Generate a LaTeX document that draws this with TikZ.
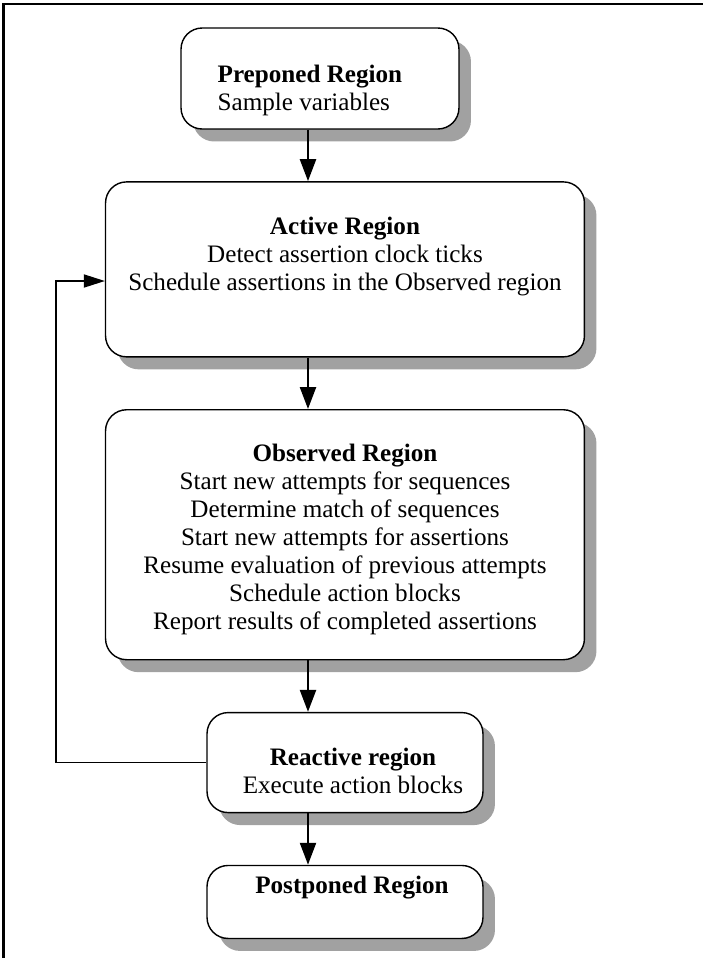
\documentclass[tikz,border=0pt]{standalone}
\usepackage{fontspec}
\setmainfont{Liberation Serif}
\usetikzlibrary{arrows.meta, positioning, shadows}

\begin{document}
\begin{tikzpicture}[
    x=0.02cm, y=-0.02cm,
    node distance=1.03cm,
    region/.style={draw, line width=0.8pt, rounded corners=12pt, fill=white,
      drop shadow={shadow xshift=0.24cm, shadow yshift=-0.25cm, fill=black!37, opacity=1}},
    regtext/.style={inner sep=0pt, align=center, font=\fontsize{14.3}{15.9}\selectfont},
    arr/.style={-{Triangle[length=12.5pt, width=9pt]}, line width=1.6pt},
    back/.style={-{Triangle[length=12pt, width=7.5pt]}, line width=0.75pt}
  ]
    \useasboundingbox (0,0) rectangle (703,958);
    \draw[line width=1.3pt] (3.5,958) -- (3.5,4) -- (703,4);
    \node[region, minimum width=5.56cm, minimum height=2.02cm] (pre) at (320,78.5) {};
    \node[region, minimum width=9.58cm, minimum height=3.5cm, below=of pre, xshift=0.5cm] (act) {};
    \node[region, minimum width=9.58cm, minimum height=5cm, below=of act] (obs) {};
    \node[region, minimum width=5.52cm, minimum height=2cm, below=of obs] (rea) {};
    \node[region, minimum width=5.52cm, minimum height=1.46cm, below=of rea] (post) {};
    \node[regtext, align=left, below right=0.74cm and 0.74cm of pre.north west] (pretext)
      {\textbf{Preponed Region}\\Sample variables};
    \node[regtext, below=0.72cm of act.north] (acttext)
      {\textbf{Active Region}\\Detect assertion clock ticks\\Schedule assertions in the Observed region};
    \node[regtext, below=0.7cm of obs.north] (obstext)
      {\textbf{Observed Region}\\Start new attempts for sequences\\Determine match of sequences\\Start new attempts for assertions\\Resume evaluation of previous attempts\\Schedule action blocks\\Report results of completed assertions};
    \node[regtext, below=0.72cm of rea.north, xshift=0.16cm] (reatext)
      {\textbf{Reactive region}\\Execute action blocks};
    \node[regtext, below=0.22cm of post.north, xshift=0.14cm] (posttext)
      {\textbf{Postponed Region}};
    \coordinate (axis) at (308,0);
    \coordinate (turn) at (56,281);
    \draw[arr] (pre.south -| axis) -- (act.north -| axis);
    \draw[arr] (act.south -| axis) -- (obs.north -| axis);
    \draw[arr] (obs.south -| axis) -- (rea.north -| axis);
    \draw[arr] (rea.south -| axis) -- (post.north -| axis);
    \draw[back] (rea.west) -| (turn) -- (act.west |- turn);
  \end{tikzpicture}
\end{document}
